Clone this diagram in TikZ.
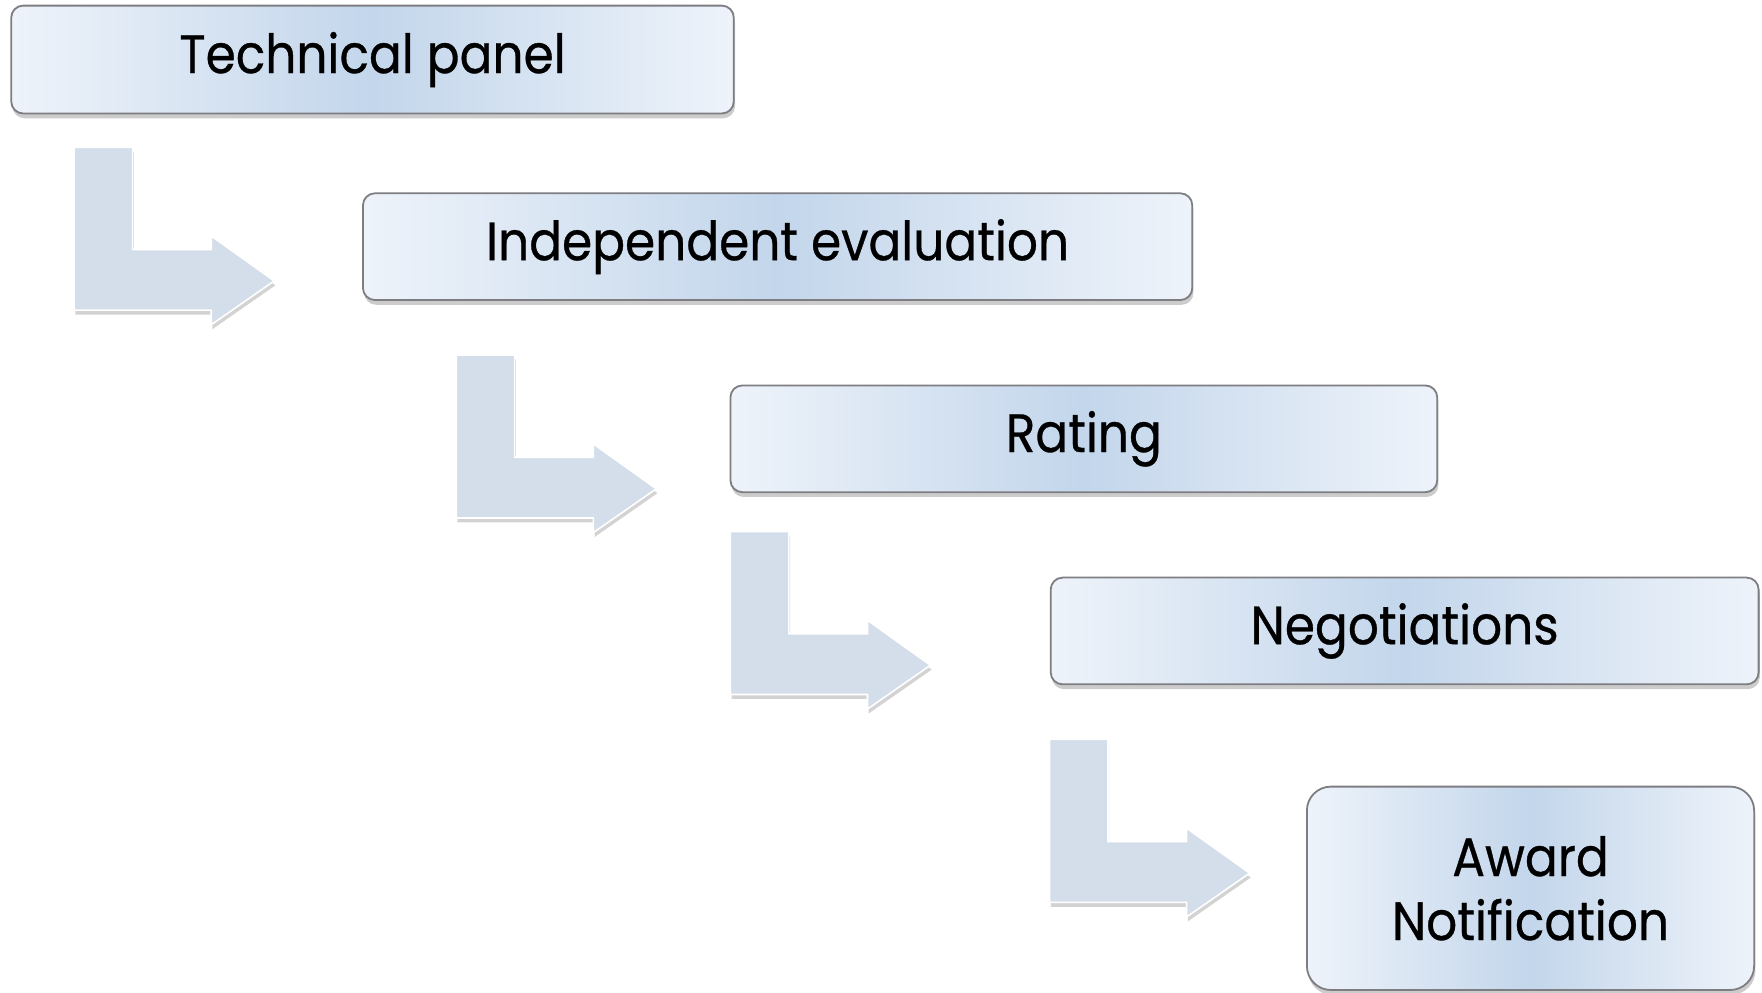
\documentclass[tikz,border=0pt]{standalone}
\usepackage{fontspec}
\setmainfont[FakeStretch=0.9, FakeBold=0.6]{Poppins}
\usetikzlibrary{shadows}
\definecolor{boxedge}{RGB}{238,243,250}
\definecolor{boxmid}{RGB}{195,214,235}
\definecolor{boxline}{RGB}{125,125,130}
\definecolor{arrowfill}{RGB}{211,222,234}
\tikzset{
  stepbox/.style={draw=boxline, line width=0.9pt, rounded corners=6pt,
    left color=boxedge, right color=boxedge, middle color=boxmid,
    drop shadow={opacity=0.4, shadow xshift=0.6pt, shadow yshift=-2.4pt},
    font=\fontsize{27}{33}\selectfont, text=black, align=center, inner sep=0pt},
  bentarrow/.pic={
    \path[fill=arrowfill, draw=white, line width=0.8pt,
      drop shadow={opacity=0.35, shadow xshift=0.6pt, shadow yshift=-2.2pt}]
      (0,0) -- (52,0) -- (52,91) -- (122,91) -- (122,79) -- (178,119)
      -- (122,158) -- (122,145) -- (0,145) -- cycle;
  }
}
\begin{document}
\begin{tikzpicture}[x=0.5618pt, y=-0.5618pt]
\useasboundingbox (0,0) rectangle (1568,883);
\node[stepbox, minimum width={643*0.5618pt}, minimum height={96*0.5618pt}] (b1) at (331.5,53) {Technical panel};
\node[stepbox, minimum width={738*0.5618pt}, minimum height={95*0.5618pt}] (b2) at (692,219.5) {Independent evaluation};
\node[stepbox, minimum width={629*0.5618pt}, minimum height={95*0.5618pt}] (b3) at (964.5,390.5) {Rating};
\node[stepbox, minimum width={630*0.5618pt}, minimum height={95*0.5618pt}] (b4) at (1250,561.5) {Negotiations};
\node[stepbox, rounded corners=12pt, minimum width={398*0.5618pt}, minimum height={181*0.5618pt}] (b5) at (1362,790.5) {Award\\[-1pt]Notification};
\pic at (66,131) {bentarrow};
\pic at (406,316) {bentarrow};
\pic at (650,473) {bentarrow};
\pic at (934,658) {bentarrow};
\end{tikzpicture}
\end{document}
